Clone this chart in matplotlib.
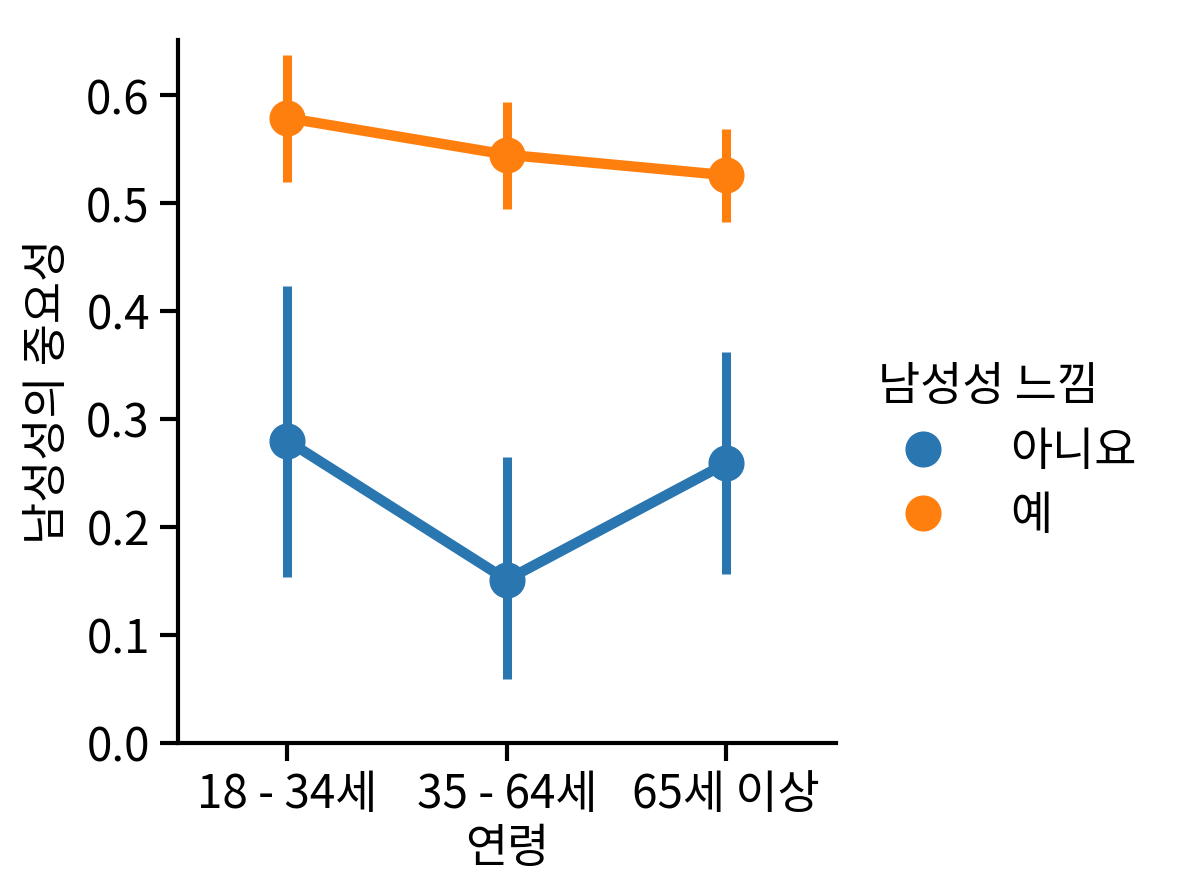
import matplotlib
matplotlib.use('Agg')
import numpy as np
import matplotlib.pyplot as plt
from matplotlib.lines import Line2D

plt.rcParams['font.family'] = ['Noto Sans CJK KR', 'DejaVu Sans']

## Data
age_groups = ['18 - 34세', '35 - 64세', '65세 이상']
hue_labels = ['아니요', '예']
colors = ['#2a76b0', '#ff7f0e']

mean_no = [0.280, 0.151, 0.259]
low_no = [0.154, 0.059, 0.156]
high_no = [0.423, 0.265, 0.362]

mean_yes = [0.579, 0.545, 0.526]
low_yes = [0.520, 0.495, 0.483]
high_yes = [0.637, 0.594, 0.569]

series = [(mean_no, low_no, high_no), (mean_yes, low_yes, high_yes)]

## Plot
fs = 33
fig = plt.figure(figsize=(11.84, 8.96), dpi=100)
ax = fig.add_axes([0.150, 0.171, 0.556, 0.784])

x = np.arange(len(age_groups))
for (m, lo, hi), c in zip(series, colors):
    ax.vlines(x, lo, hi, color=c, lw=6.5, zorder=2)
    ax.plot(x, m, color=c, lw=7.5, marker='o', ms=25, zorder=3)

ax.set_xlim(-0.5, 2.5)
ax.set_ylim(0, 0.651)
ax.set_xticks(x)
ax.set_xticklabels(age_groups)
ax.set_yticks(np.arange(0, 0.61, 0.1))
ax.set_yticklabels(['%.1f' % v for v in np.arange(0, 0.61, 0.1)])
ax.tick_params(labelsize=fs, width=3, length=13, pad=7)
for s in ['top', 'right']:
    ax.spines[s].set_visible(False)
for s in ['left', 'bottom']:
    ax.spines[s].set_linewidth(3)
ax.set_xlabel('연령', fontsize=fs, labelpad=4)
ax.set_ylabel('남성성의 중요성', fontsize=fs, labelpad=10)

handles = [Line2D([], [], color=c, marker='o', ms=25, lw=0) for c in colors]
leg = fig.legend(handles, hue_labels, title='남성성 느낌', loc='center left',
                 bbox_to_anchor=(0.718, 0.496), frameon=False, fontsize=fs,
                 title_fontsize=fs, handletextpad=0.9, labelspacing=0.35,
                 borderaxespad=0.2)
leg._legend_box.align = 'left'

fig.savefig('out.png', dpi=100)
